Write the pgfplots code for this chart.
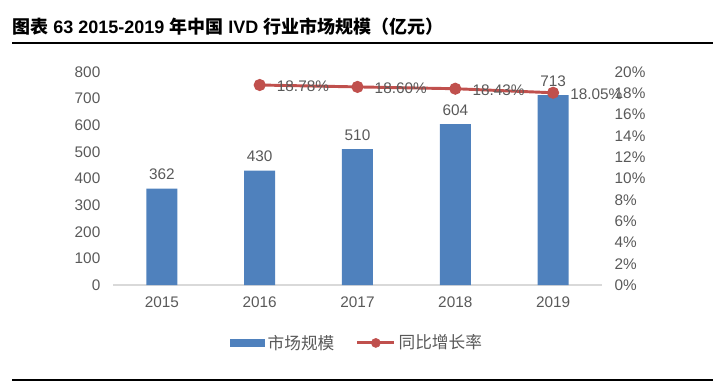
\documentclass[border=0pt]{standalone}
\usepackage{pgfplots}
\pgfplotsset{compat=1.18}
\usepackage{fontspec}
\setmainfont{Liberation Sans}
\newfontfamily\cjk{Noto Sans CJK SC}
\definecolor{barblue}{HTML}{4F81BD}
\definecolor{linered}{HTML}{C0504D}
\definecolor{txt}{HTML}{595959}
\definecolor{axgray}{HTML}{D9D9D9}
\newcommand\tfont{\fontsize{11.5}{13}\selectfont}
\begin{document}
\begin{tikzpicture}
\useasboundingbox (0,0) rectangle (538.5pt,287.25pt);
% title
\node[anchor=west,inner sep=0pt] at (9pt,267pt) {\fontsize{13.5}{15}\selectfont\bfseries{\cjk\bfseries 图表} 63 2015-2019 {\cjk\bfseries 年中国} IVD {\cjk\bfseries 行业市场规模（亿元）}};
\draw[line width=1.1pt] (9pt,255pt) -- (535pt,255pt);
\draw[line width=0.8pt] (9pt,2.25pt) -- (535pt,2.25pt);

\begin{axis}[
  at={(84.75pt,73.5pt)}, anchor=south west,
  scale only axis, width=366.75pt, height=159.75pt,
  xmin=-0.5, xmax=4.5, ymin=0, ymax=800,
  ytick={0,100,...,800},
  xtick={0,1,2,3,4},
  xticklabels={2015,2016,2017,2018,2019},
  axis x line*=bottom, axis y line*=left,
  x axis line style={draw=axgray,line width=0.8pt,-},
  y axis line style={draw=none},
  major tick length=0pt,
  tick label style={font=\tfont, text=txt},
  /pgf/number format/assume math mode=true,
  yticklabel style={xshift=-6pt},
  xticklabel style={yshift=-5pt},
  legend style={at={(0.5,-0.272)}, anchor=center, draw=none, fill=none,
    legend columns=2, font=\fontsize{12.5}{14}\selectfont\cjk, text=txt,
    /tikz/every even column/.append style={column sep=14pt}},
]
\addplot[ybar, bar width=23.25pt, fill=barblue, draw=none,
  nodes near coords, nodes near coords style={font=\tfont, text=txt, yshift=3pt},
  legend image code/.code={\fill[barblue] (0pt,-3.2pt) rectangle (26pt,3.2pt);}]
  coordinates {(0,362) (1,430) (2,510) (3,604) (4,713)};
\addlegendentry{市场规模}
\addlegendimage{legend image code/.code={\draw[linered,line width=2.2pt] (0pt,0pt)--(28pt,0pt); \fill[linered] (14pt,0pt) circle (3.4pt);}}
\addlegendentry{同比增长率}
\end{axis}

\begin{axis}[
  at={(84.75pt,73.5pt)}, anchor=south west,
  scale only axis, width=366.75pt, height=159.75pt,
  xmin=-0.5, xmax=4.5, ymin=0, ymax=20,
  ytick={0,2,...,20},
  yticklabel={\pgfmathprintnumber{\tick}\%},
  axis x line=none, axis y line*=right,
  y axis line style={draw=none},
  major tick length=0pt,
  tick label style={font=\tfont, text=txt},
  /pgf/number format/assume math mode=true,
  yticklabel style={xshift=6pt},
]
\addplot[linered, line width=2.2pt, mark=*, mark size=3.4pt,
  mark options={fill=linered, draw=linered},
  nodes near coords={\pgfmathprintnumber[fixed,precision=2,fixed zerofill]{\pgfplotspointmeta}\%},
  nodes near coords style={font=\tfont, text=txt, anchor=west, xshift=8.5pt, yshift=-1pt},
  /pgf/number format/assume math mode=true]
  coordinates {(1,18.78) (2,18.60) (3,18.43) (4,18.05)};
\end{axis}
\end{tikzpicture}
\end{document}
